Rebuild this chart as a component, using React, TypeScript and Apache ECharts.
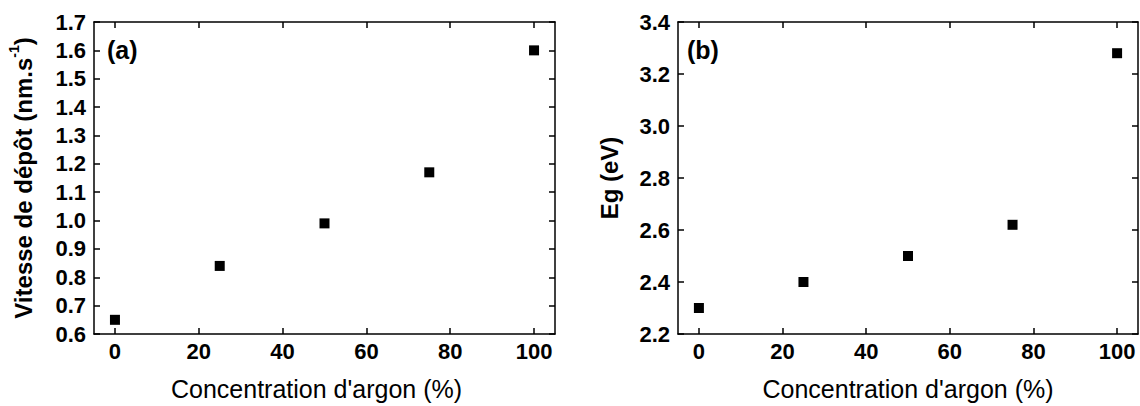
import React, { useEffect, useRef } from "react";
import * as echarts from "echarts";

const concentrations = [0, 25, 50, 75, 100];
const vitesse = [0.65, 0.84, 0.99, 1.17, 1.6];
const gap = [2.3, 2.4, 2.5, 2.62, 3.28];
const xTicks = [0, 20, 40, 60, 80, 100];
const xTitle = "Concentration d'argon (%)";
const panelLabels = ["(a)", "(b)"];

export default function App() {
  const ref = useRef<HTMLDivElement>(null);
  useEffect(() => {
    const chart = echarts.init(ref.current!, null, { renderer: "svg" });
    const font = "'Liberation Sans', Arial, sans-serif";
    const lineStyle = { color: "#000", width: 1.5 };
    const tickLabel = { color: "#000", fontSize: 22, fontWeight: "bold" as const, fontFamily: font };
    const grids = [
      { left: 94, top: 22, width: 461, height: 313 },
      { left: 678, top: 22, width: 460, height: 313 },
    ];
    const xAxes: any[] = [];
    const yAxes: any[] = [];
    const yCfg = [
      { min: 0.6, max: 1.7, interval: 0.1 },
      { min: 2.2, max: 3.4, interval: 0.2 },
    ];
    [0, 1].forEach((g) => {
      xAxes.push({
        type: "value", gridIndex: g, min: -5, max: 105, interval: 5,
        position: "bottom",
        name: xTitle, nameLocation: "middle", nameGap: 42,
        nameTextStyle: { color: "#000", fontSize: 25, fontFamily: font, padding: g === 0 ? [0, 16, 0, 0] : 0 },
        axisLine: { show: true, onZero: false, lineStyle },
        axisTick: { show: true, inside: true, length: 6, lineStyle, customValues: xTicks },
        axisLabel: { ...tickLabel, margin: 6, customValues: xTicks },
        splitLine: { show: false },
      });
      xAxes.push({
        type: "value", gridIndex: g, min: -5, max: 105, interval: 5, position: "top",
        axisLine: { show: true, onZero: false, lineStyle },
        axisTick: { show: true, inside: true, length: 6, lineStyle, customValues: xTicks },
        axisLabel: { show: false },
        splitLine: { show: false },
      });
      yAxes.push({
        type: "value", gridIndex: g, ...yCfg[g], position: "left",
        name: g === 0 ? "{a|Vitesse de dépôt (nm.s}{s|-1}{a|)}" : "Eg (eV)",
        nameLocation: "middle", nameGap: g === 0 ? 59 : 57,
        nameTextStyle: g === 0
          ? {
              color: "#000", fontFamily: font, fontWeight: "bold",
              rich: {
                a: { color: "#000", fontSize: 24, fontWeight: "bold", fontFamily: font, lineHeight: 28, verticalAlign: "bottom" },
                s: { color: "#000", fontSize: 14, fontWeight: "bold", fontFamily: font, lineHeight: 28, verticalAlign: "top" },
              },
            }
          : { color: "#000", fontSize: 24, fontWeight: "bold", fontFamily: font },
        axisLine: { show: true, onZero: false, lineStyle },
        axisTick: { show: true, inside: true, length: 6, lineStyle },
        axisLabel: { ...tickLabel, margin: 8, formatter: (v: number) => v.toFixed(1) },
        splitLine: { show: false },
      });
      yAxes.push({
        type: "value", gridIndex: g, ...yCfg[g], position: "right",
        axisLine: { show: true, onZero: false, lineStyle },
        axisTick: { show: true, inside: true, length: 6, lineStyle },
        axisLabel: { show: false },
        splitLine: { show: false },
      });
    });
    chart.setOption({
      animation: false,
      backgroundColor: "#fff",
      grid: grids,
      xAxis: xAxes,
      yAxis: yAxes,
      graphic: [
        { type: "text", left: 107, top: 37, style: { text: panelLabels[0], fontSize: 25, fontWeight: "bold", fontFamily: font, fill: "#000" } },
        { type: "text", left: 687, top: 37, style: { text: panelLabels[1], fontSize: 25, fontWeight: "bold", fontFamily: font, fill: "#000" } },
      ],
      series: [
        {
          type: "scatter", xAxisIndex: 0, yAxisIndex: 0, symbol: "rect", symbolSize: 10,
          itemStyle: { color: "#000", opacity: 1 },
          data: concentrations.map((c, i) => [c, vitesse[i]]),
        },
        {
          type: "scatter", xAxisIndex: 2, yAxisIndex: 2, symbol: "rect", symbolSize: 10,
          itemStyle: { color: "#000", opacity: 1 },
          data: concentrations.map((c, i) => [c, gap[i]]),
        },
      ],
    });
    return () => chart.dispose();
  }, []);
  return <div ref={ref} style={{ position: "absolute", left: 0, top: 0, width: 1140, height: 406 }} />;
}
